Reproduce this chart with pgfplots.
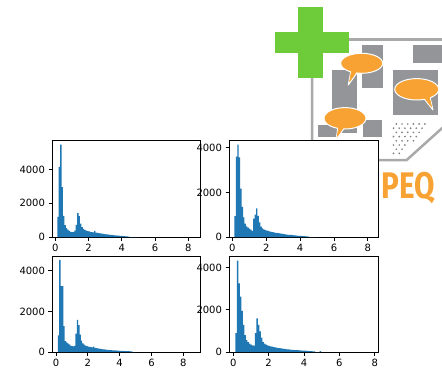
\documentclass[border=0pt]{standalone}
\usepackage{fontspec}
\setmainfont{DejaVu Sans}
\newfontfamily\logofont{Fira Sans}
\usepackage{pgfplots}
\usepackage{pgfplotstable}
\pgfplotsset{compat=1.18}
\definecolor{mplblue}{HTML}{1F77B4}
\definecolor{logogreen}{HTML}{6ECC3A}
\definecolor{logoorange}{HTML}{F7A233}
\definecolor{logogray}{HTML}{939598}
\definecolor{dotgray}{HTML}{7F7F7F}
\definecolor{framegray}{HTML}{A9A9A9}

\pgfplotstableread{
x tl tr bl br
0.120 1200 930 820 900
0.205 4150 3600 4530 4340
0.290 5480 4140 3240 3260
0.375 2950 3570 3240 2630
0.460 1250 2170 1270 1950
0.545 700 1350 530 1290
0.630 520 880 480 800
0.715 430 600 420 560
0.800 360 480 370 470
0.885 310 420 320 400
0.970 290 380 290 350
1.055 300 330 280 310
1.140 380 270 300 300
1.225 720 820 900 900
1.310 1420 1000 1580 1600
1.395 1240 1280 1320 1290
1.480 800 950 860 980
1.565 590 650 560 680
1.650 480 470 420 480
1.735 420 390 360 400
1.820 380 340 320 350
1.905 350 310 290 320
1.990 330 290 270 290
2.075 310 270 250 270
2.160 290 250 235 250
2.245 275 235 230 235
2.330 360 220 260 220
2.415 260 205 200 205
2.500 240 190 185 190
2.585 225 180 175 180
2.670 210 170 165 170
2.755 200 160 155 160
2.840 185 150 145 150
2.925 170 140 135 140
3.010 160 130 125 130
3.095 150 120 115 120
3.180 140 110 105 110
3.265 130 100 100 105
3.350 120 95 95 100
3.435 110 90 90 95
3.520 100 80 85 90
3.605 95 75 80 85
3.690 85 70 75 80
3.775 80 60 70 75
3.860 70 55 65 70
3.945 65 50 60 65
4.030 55 45 55 60
4.115 50 40 50 55
4.200 40 35 50 50
4.285 30 30 45 45
4.370 15 25 45 40
4.455 0 15 40 35
4.540 0 0 40 30
4.625 0 0 35 0
4.710 0 0 30 0
4.795 0 0 0 0
4.880 0 0 0 40
4.965 0 0 0 0
}\hist

\pgfplotsset{
 histax/.style={
  scale only axis,
  anchor=south west,
  axis background/.style={fill=white},
  axis line style={black, line width=0.8pt},
  tick align=outside,
  xtick pos=left, ytick pos=left,
  major tick length=3.5pt,
  every tick/.style={black, line width=0.8pt},
  xtick={0,2,4,6,8},
  ytick={0,2000,4000},
  scaled y ticks=false,
  /pgf/number format/1000 sep={},
  /pgf/number format/assume math mode=true,
  tick label style={font=\fontsize{10}{12}\selectfont, text=black},
  ymin=0,
 },
}

\begin{document}
\begin{tikzpicture}
\useasboundingbox (0,0) rectangle (442pt,373pt);
\begin{scope}[x=1pt,y=-1pt,shift={(0pt,373pt)}]
\clip (0,0) rectangle (442,373);
% frame
\draw[framegray, line width=2.5pt] (312,39.5) -- (460,39.5);
\draw[framegray, line width=2.5pt, line join=miter] (312,39.5) -- (312,160) -- (406.7,160) -- (446,124.6);
% blocks
\fill[logogray] (361.7,45) rectangle (383.3,88.3);
\fill[logogray] (413.3,45) rectangle (450,63.3);
\fill[logogray] (331.7,70) rectangle (356.7,133);
\fill[logogray] (392.7,70) rectangle (438,115);
\fill[logogray] (363.3,120) rectangle (382,137);
\fill[logogray] (318.3,125) rectangle (336.7,137);
% dots
\foreach \j in {0,...,7}{
  \foreach \i in {0,...,6}{
    \pgfmathsetmacro\xx{393.5+5.7*\i+2.8*mod(\j+1,2)}
    \pgfmathtruncatemacro\ok{(\xx <= 429-3.9*\j) ? 1 : 0}
    \ifnum\ok=1
      \fill[dotgray] (\xx,{124+4.2*\j}) circle[radius=0.95];
    \fi
  }
}
% bubble 1
\filldraw[fill=logoorange, draw=white, line width=1pt, line join=round] (351,70) -- (348.3,85) -- (358,71.5) -- cycle;
\filldraw[fill=logoorange, draw=white, line width=1pt] (361.7,63.3) ellipse[x radius=21, y radius=10];
\fill[logoorange] (351.5,69) -- (349.2,82) -- (357,71) -- cycle;
% bubble 2
\filldraw[fill=logoorange, draw=white, line width=1pt, line join=round] (423,97.5) -- (433,110) -- (430,97) -- cycle;
\filldraw[fill=logoorange, draw=white, line width=1pt] (416.7,89.3) ellipse[x radius=22, y radius=10.7];
\fill[logoorange] (423.5,97) -- (432,107.5) -- (429.5,96.5) -- cycle;
% bubble 3
\filldraw[fill=logoorange, draw=white, line width=1pt, line join=round] (338,127) -- (336,140) -- (344,128.5) -- cycle;
\filldraw[fill=logoorange, draw=white, line width=1pt] (345,118.3) ellipse[x radius=21, y radius=10.7];
\fill[logoorange] (338.5,126.5) -- (336.8,137) -- (343.5,128) -- cycle;
% cross
\fill[logogreen] (297.7,6.7) rectangle (323.3,77.7);
\fill[logogreen] (275,31.7) rectangle (349.3,53.3);
% text
\node[anchor=base west, inner sep=0pt, text=logoorange, font=\logofont\bfseries\fontsize{37}{37}\selectfont, xscale=0.8] at (381.5,198.5) {PEQ};
\end{scope}

\begin{axis}[histax, at={(52pt,136pt)}, width=148pt, height=97pt, xmin=-0.2, xmax=8.7, ymax=5750]
\addplot[ybar interval, fill=mplblue, draw=none] table[x=x,y=tl]{\hist};
\end{axis}
\begin{axis}[histax, at={(229pt,136pt)}, width=149pt, height=97pt, xmin=-0.2, xmax=8.6, ymax=4346]
\addplot[ybar interval, fill=mplblue, draw=none] table[x=x,y=tr]{\hist};
\end{axis}
\begin{axis}[histax, at={(52pt,21pt)}, width=148pt, height=96pt, xmin=-0.25, xmax=9.05, ymax=4726]
\addplot[ybar interval, fill=mplblue, draw=none] table[x=x,y=bl]{\hist};
\end{axis}
\begin{axis}[histax, at={(229pt,21pt)}, width=149pt, height=96pt, xmin=-0.24, xmax=8.18, ymax=4557]
\addplot[ybar interval, fill=mplblue, draw=none] table[x=x,y=br]{\hist};
\end{axis}
\end{tikzpicture}
\end{document}
